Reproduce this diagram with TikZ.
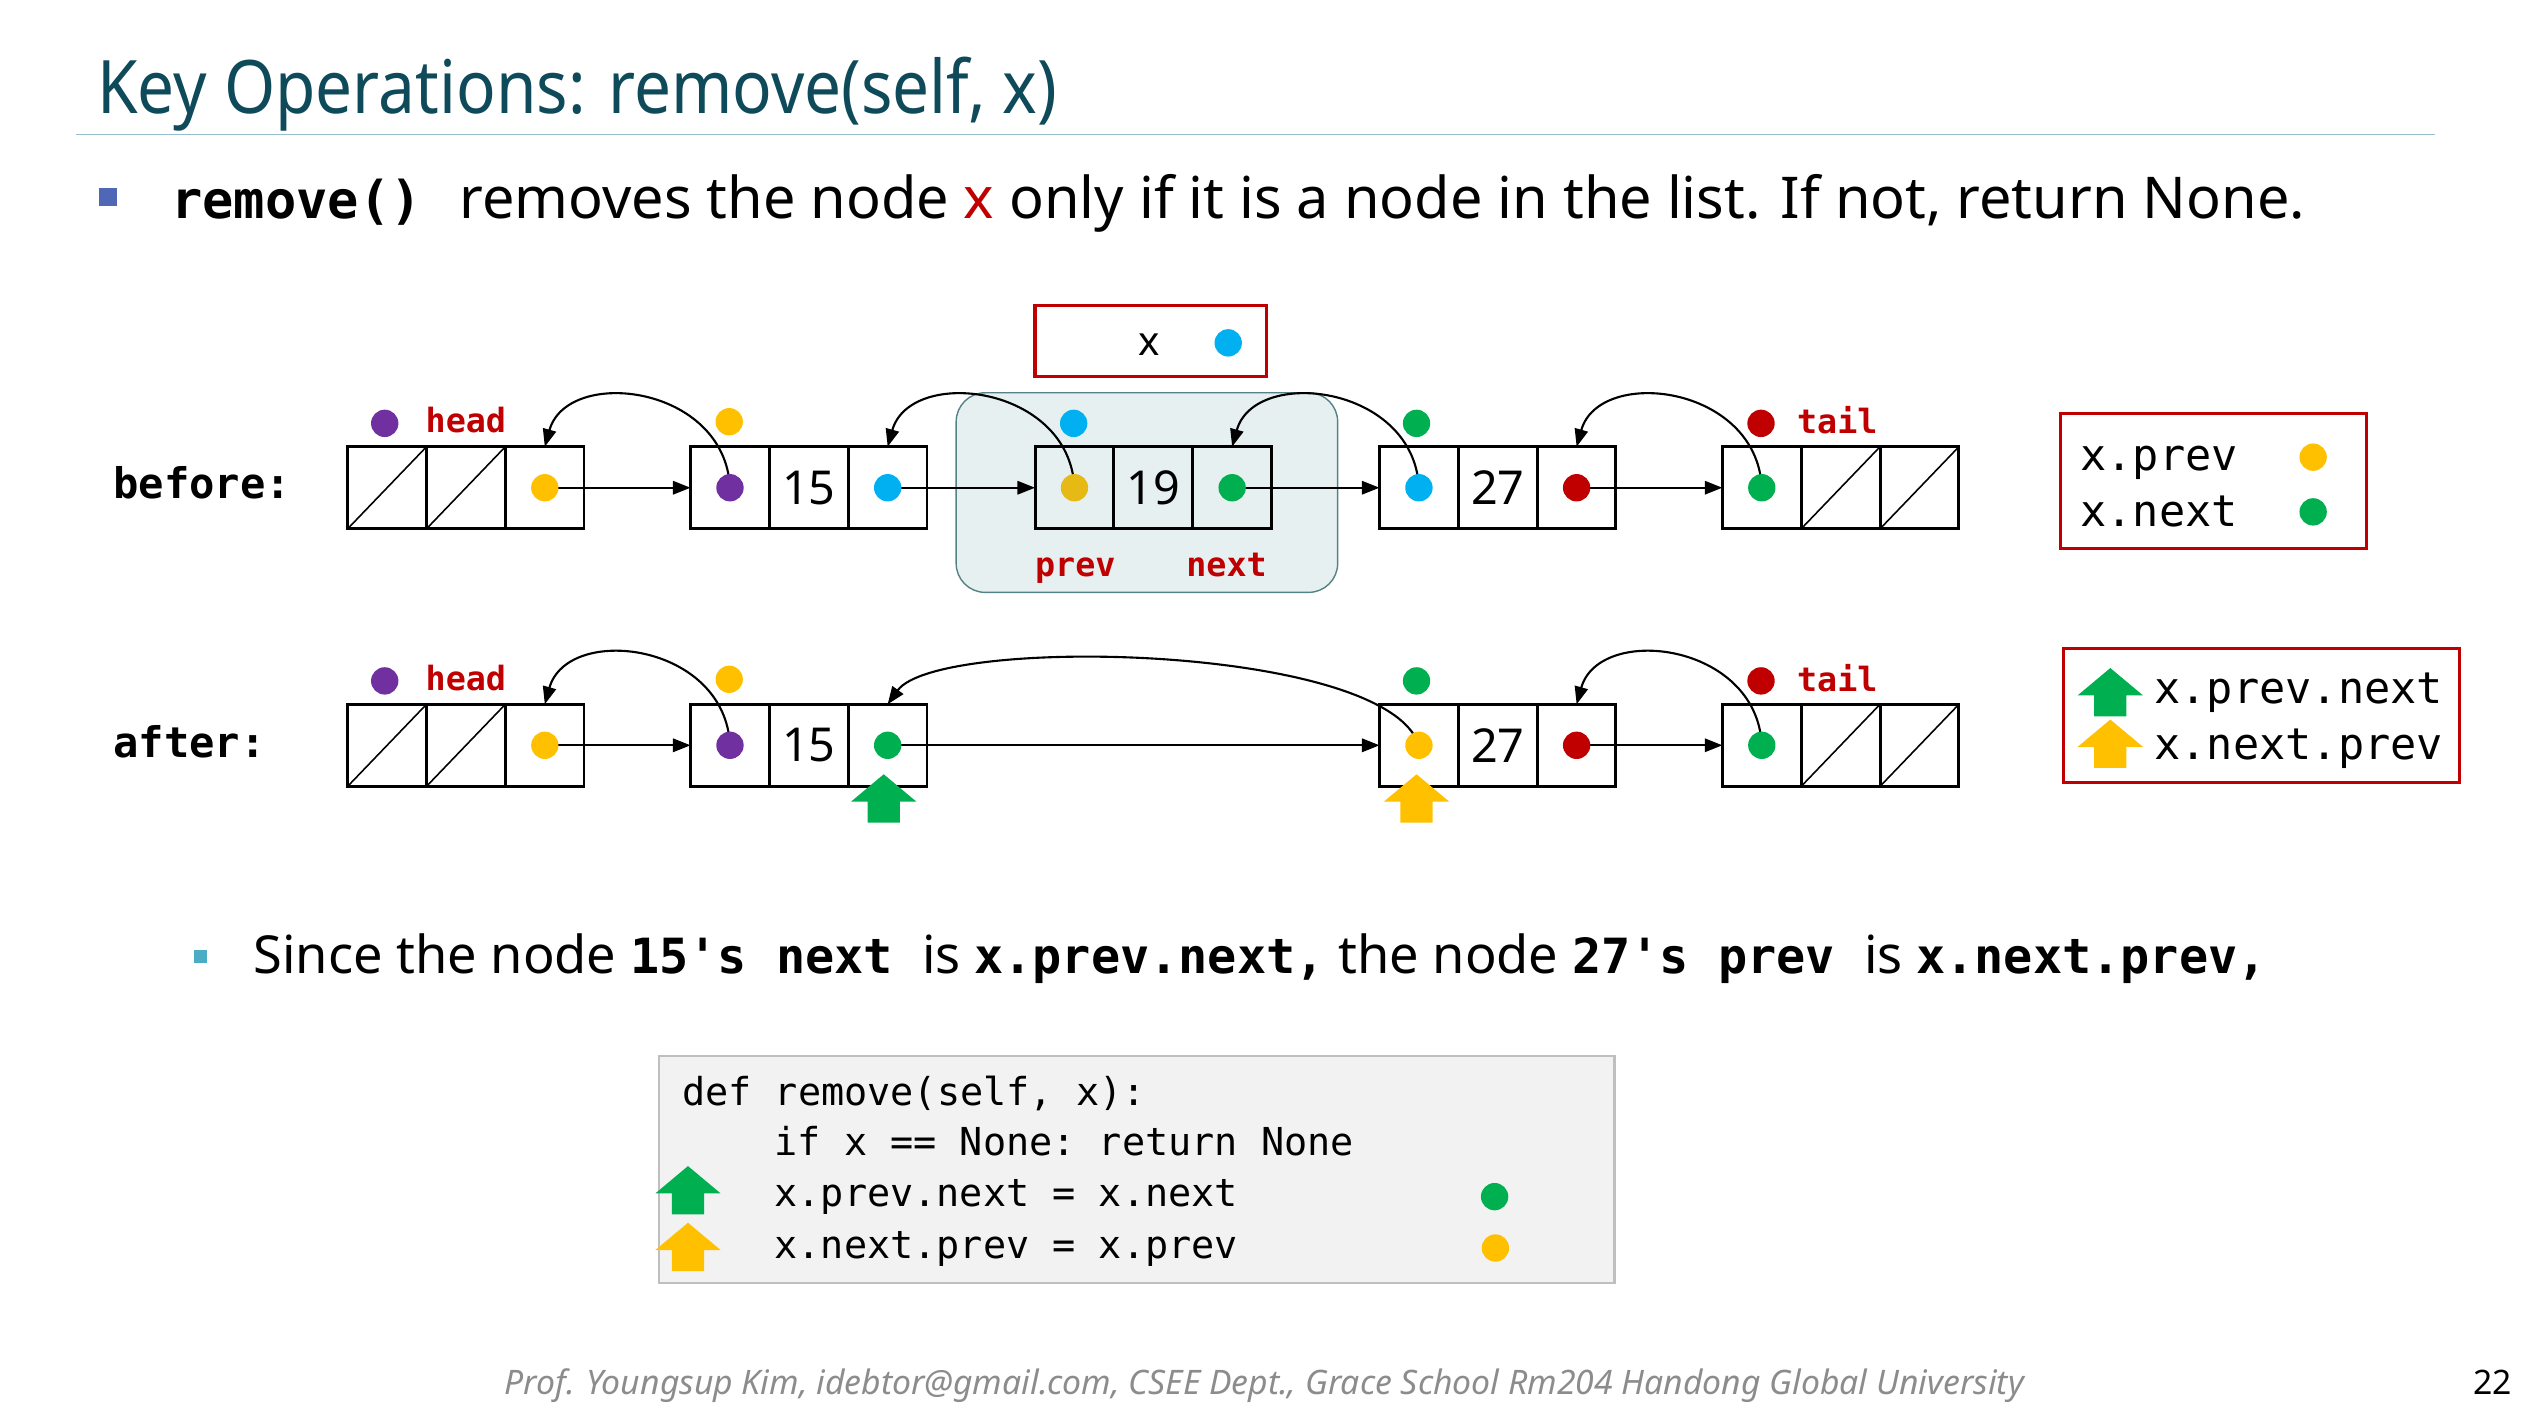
\documentclass[tikz,border=0pt]{standalone}
\usepackage{fontspec}
\setmainfont{Noto Sans}
\setmonofont{DejaVu Sans Mono}
\newfontfamily\titlefont[FakeStretch=0.89]{Noto Sans}
\usetikzlibrary{arrows.meta}
\definecolor{titlec}{RGB}{14,74,90}
\definecolor{rulec}{RGB}{150,190,205}
\definecolor{bulA}{RGB}{79,103,181}
\definecolor{bulB}{RGB}{75,172,198}
\definecolor{cgreen}{RGB}{0,176,80}
\definecolor{cyellow}{RGB}{255,192,0}
\definecolor{cgold}{RGB}{230,185,20}
\definecolor{cpurple}{RGB}{112,48,160}
\definecolor{cblue}{RGB}{0,176,240}
\definecolor{cred}{RGB}{192,0,0}
\definecolor{hlfill}{RGB}{230,240,240}
\definecolor{hldraw}{RGB}{84,130,135}
\definecolor{codebg}{RGB}{242,242,242}
\definecolor{codebd}{RGB}{191,191,191}
\definecolor{footc}{RGB}{140,140,140}
\newdimen\pu \pu=0.016097cm
\newcommand\fsz[1]{\fontsize{#1}{#1}\selectfont}
\tikzset{
  cell/.style={draw, line width=0.45pt, minimum width=48\pu, minimum height=50\pu, inner sep=0pt, anchor=west, font=\fsz{13.3pt}},
  dot/.style={circle, fill=#1, minimum size=17\pu, inner sep=0pt},
  fwd/.style={line width=0.6pt, -{Triangle[length=5pt,width=3.8pt]}},
  lbl/.style={inner sep=0pt, text=cred, font=\ttfamily\bfseries\fsz{9.5pt}},
  txt/.style={inner sep=0pt, anchor=base west},
  codeln/.style={inner sep=0pt, anchor=base west, font=\ttfamily\fsz{10.95pt}},
  legtxt/.style={inner sep=0pt, anchor=base west, font=\ttfamily\fsz{12.4pt}},
  redbox/.style={draw=cred, line width=0.9pt, inner sep=0pt},
}
\newcommand\lnode[4]{%
  \node[cell] (#1a) at (#2,#3) {};
  \node[cell] (#1b) at (#1a.east) {#4};
  \node[cell] (#1c) at (#1b.east) {};
  \draw[line width=0.7pt] (#1a.south west) rectangle (#1c.north east);
}
\newcommand\upar[3]{% colour, x, tip y
  \fill[#1] (#2,#3) -- ++(20.3,17) -- ++(-10.3,0) -- ++(0,13) -- ++(-20,0) -- ++(0,-13) -- ++(-10.3,0) -- cycle;
}
\newcommand\bm[1]{{\ttfamily\bfseries\fsz{13.8pt}#1}}
\begin{document}
\begin{tikzpicture}[x=0.016097cm, y=-0.016097cm]
\useasboundingbox (0,0) rectangle (1568,873);
% title
\node[txt, text=titlec, font=\titlefont\fsz{21pt}] (title) at (60,70.4) {Key Operations: remove(self, x)};
\draw[rulec, line width=0.5pt] (47,83.5) -- (1513,83.5);
% main bullet
\fill[bulA] (61.5,117) rectangle (72.5,128);
\node[txt, font=\ttfamily\bfseries\fsz{14.8pt}] (m1) at (106,136) {remove()};
\node[txt, font=\fsz{16.4pt}] (m2) at (285,136) {removes the node \textcolor{cred}{\textbf{x}} only if it is a node in the list. If not, return None.};
% highlight
\node[draw=hldraw, fill=hlfill, rounded corners=18\pu, minimum width=237\pu, minimum height=124\pu, inner sep=0pt] (hl) at (712.5,306) {};
% x box
\node[redbox, minimum width=144\pu, minimum height=44\pu] (xbox) at (715,212) {};
\node[inner sep=0pt, font=\fsz{11.5pt}] (xlab) at (714,214) {x};
\node[dot=cblue] (xdot) at (763,213) {};
% before row
\node[txt, anchor=west, font=\ttfamily\bfseries\fsz{12pt}] (before) at (70,300) {before:};
\lnode{b0}{216}{303}{}
\lnode{b1}{429}{303}{15}
\lnode{b2}{643}{303}{19}
\lnode{b3}{857}{303}{27}
\lnode{b4}{1070}{303}{}
\draw[line width=0.45pt] (b0a.south west) -- (b0a.north east) (b0b.south west) -- (b0b.north east);
\draw[line width=0.45pt] (b4b.south west) -- (b4b.north east) (b4c.south west) -- (b4c.north east);
\draw[fwd] (b0c.center) -- (b1a.west);
\draw[fwd] (b1c.center) -- (b2a.west);
\draw[fwd] (b2c.center) -- (b3a.west);
\draw[fwd] (b3c.center) -- (b4a.west);
\draw[fwd] (b1a.center) .. controls +(-3,-64) and +(14,-50) .. (b0c.north);
\draw[fwd] (b2a.center) .. controls +(-3,-64) and +(14,-50) .. (b1c.north);
\draw[fwd] (b3a.center) .. controls +(-3,-64) and +(14,-50) .. (b2c.north);
\draw[fwd] (b4a.center) .. controls +(-3,-64) and +(14,-50) .. (b3c.north);
\node[dot=cyellow] (bd0) at (b0c) {};
\node[dot=cpurple] (bd1p) at (b1a) {};
\node[dot=cblue] (bd1n) at (b1c) {};
\node[dot=cgold] (bd2p) at (b2a) {};
\node[dot=cgreen] (bd2n) at (b2c) {};
\node[dot=cblue] (bd3p) at (b3a) {};
\node[dot=cred] (bd3n) at (b3c) {};
\node[dot=cgreen] (bd4) at (b4a) {};
\node[dot=cpurple] (bh) at (239,263) {};
\node[lbl, anchor=west] (bhl) at (264,261) {head};
\node[dot=cyellow] (bt1) at (453,262) {};
\node[dot=cblue] (bt2) at (667,263) {};
\node[dot=cgreen] (bt3) at (880,263) {};
\node[dot=cred] (bt) at (1094,263) {};
\node[lbl, anchor=west] (btl) at (1116,261) {tail};
\node[lbl, anchor=base] (prevl) at (668,358) {prev};
\node[lbl, anchor=base] (nextl) at (762,358) {next};
% legend 1
\node[redbox, minimum width=190\pu, minimum height=84\pu] (leg1) at (1375,299) {};
\node[legtxt] (l1a) at (1292,292) {x.prev};
\node[legtxt] (l1b) at (1292,327) {x.next};
\node[dot=cyellow] (l1d1) at (1437,284) {};
\node[dot=cgreen] (l1d2) at (1437,318) {};
% after row
\node[txt, anchor=west, font=\ttfamily\bfseries\fsz{12pt}] (after) at (70,461) {after:};
\lnode{a0}{216}{463}{}
\lnode{a1}{429}{463}{15}
\lnode{a3}{857}{463}{27}
\lnode{a4}{1070}{463}{}
\draw[line width=0.45pt] (a0a.south west) -- (a0a.north east) (a0b.south west) -- (a0b.north east);
\draw[line width=0.45pt] (a4b.south west) -- (a4b.north east) (a4c.south west) -- (a4c.north east);
\draw[fwd] (a0c.center) -- (a1a.west);
\draw[fwd] (a1c.center) -- (a3a.west);
\draw[fwd] (a3c.center) -- (a4a.west);
\draw[fwd] (a1a.center) .. controls +(-3,-64) and +(14,-50) .. (a0c.north);
\draw[fwd] (a3a.center) .. controls +(-20,-63) and +(31,-43) .. (a1c.north);
\draw[fwd] (a4a.center) .. controls +(-3,-64) and +(14,-50) .. (a3c.north);
\node[dot=cyellow] (ad0) at (a0c) {};
\node[dot=cpurple] (ad1p) at (a1a) {};
\node[dot=cgreen] (ad1n) at (a1c) {};
\node[dot=cyellow] (ad3p) at (a3a) {};
\node[dot=cred] (ad3n) at (a3c) {};
\node[dot=cgreen] (ad4) at (a4a) {};
\node[dot=cpurple] (ah) at (239,423) {};
\node[lbl, anchor=west] (ahl) at (264,421) {head};
\node[dot=cyellow] (at1) at (453,422) {};
\node[dot=cgreen] (at3) at (880,423) {};
\node[dot=cred] (at) at (1094,423) {};
\node[lbl, anchor=west] (atl) at (1116,421) {tail};
\upar{cgreen}{549}{481}
\upar{cyellow}{880}{481}
% legend 2
\node[redbox, minimum width=246\pu, minimum height=83\pu] (leg2) at (1405,444.5) {};
\upar{cgreen}{1311}{415}
\upar{cyellow}{1311}{447}
\node[legtxt] (l2a) at (1338,437) {x.prev.next};
\node[legtxt] (l2b) at (1338,472) {x.next.prev};
% sub bullet
\fill[bulB] (120.6,590) rectangle (128.6,598);
\node[txt, font=\fsz{14.9pt}] (sub) at (157,605) {Since the node \bm{15's next }is \bm{x.prev.next,} the node \bm{27's prev }is \bm{x.next.prev,}};
% code box
\node[draw=codebd, fill=codebg, line width=0.6pt, minimum width=593.6\pu, minimum height=141\pu, inner sep=0pt] (code) at (706.2,726.3) {};
\node[codeln] (c1) at (423.4,686.5) {def remove(self, x):};
\node[codeln] (c2) at (480.8,718) {if x == None: return None};
\node[codeln] (c3) at (480.8,749.6) {x.prev.next = x.next};
\node[codeln] (c4) at (480.8,782) {x.next.prev = x.prev};
\upar{cgreen}{427.4}{724.4}
\upar{cyellow}{427.4}{759.6}
\node[dot=cgreen] (cd1) at (928.5,743.4) {};
\node[dot=cyellow] (cd2) at (929,775.3) {};
% footer
\node[txt, text=footc, font=\itshape\fsz{9.6pt}] (foot) at (313,866) {Prof. Youngsup Kim, idebtor@gmail.com, CSEE Dept., Grace School Rm204 Handong Global University};
\node[txt, font=\fsz{9.6pt}] (pg) at (1536,866) {22};
\end{tikzpicture}
\end{document}
